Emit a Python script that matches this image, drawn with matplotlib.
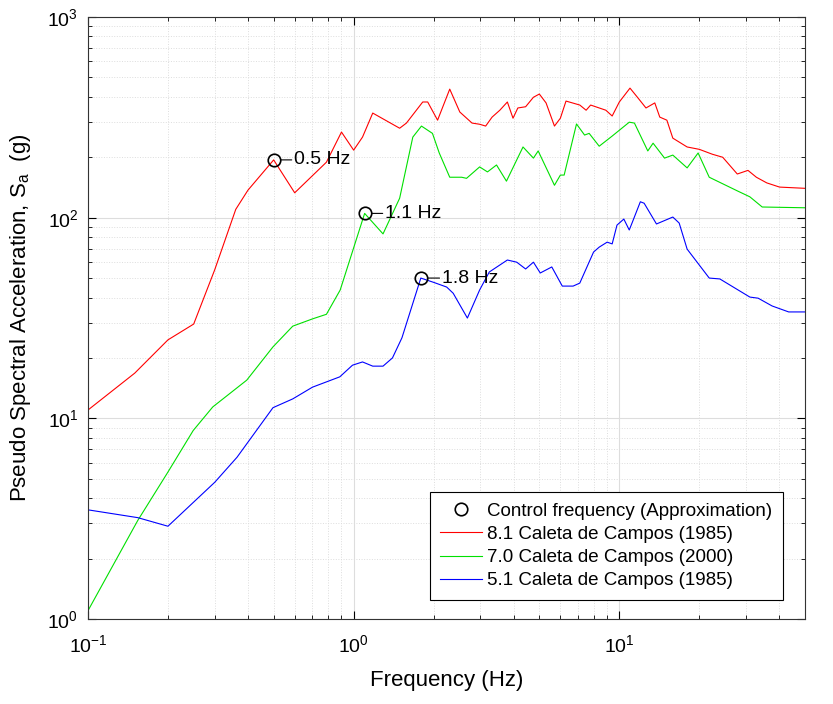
import matplotlib
import matplotlib.pyplot as plt
from matplotlib.ticker import LogLocator, NullFormatter

matplotlib.use("agg")

plt.rcParams["font.family"] = ["Liberation Sans", "DejaVu Sans"]
plt.rcParams["mathtext.default"] = "regular"

# spectra (frequency in Hz, Sa in g)
f_81 = [0.1, 0.15, 0.2, 0.25, 0.3, 0.36, 0.40, 0.5, 0.60, 0.79, 0.90, 1.0, 1.08, 1.18,
        1.49, 1.58, 1.82, 1.9, 2.07, 2.30, 2.51, 2.79, 2.98, 3.14, 3.32, 3.55, 3.79,
        3.98, 4.15, 4.44, 4.75, 5.0, 5.3, 5.7, 6.0, 6.3, 7.1, 7.5, 7.8, 8.9, 9.4, 10.0,
        10.97, 11.7, 12.6, 13.6, 14.2, 15.1, 15.9, 18.0, 20.0, 22.4, 24.5, 27.8, 30.5,
        32.8, 35.9, 40.1, 50.0]
sa_81 = [11, 16.8, 24.6, 29.5, 55, 110, 137, 194, 133, 189, 267, 217, 252, 332,
         279, 296, 377, 377, 306, 437, 336, 296, 292, 286, 317, 343, 377,
         313, 352, 357, 398, 413, 373, 286, 313, 381, 364, 343, 364, 343, 321, 377,
         442, 398, 352, 373, 317, 306, 249, 225, 219, 207, 200, 165, 172,
         159, 149, 142, 140]

f_70 = [0.1, 0.154, 0.2, 0.249, 0.295, 0.396, 0.497, 0.59, 0.70, 0.79, 0.89, 1.1,
        1.29, 1.49, 1.67, 1.80, 1.98, 2.10, 2.30, 2.55, 2.66, 2.98, 3.19, 3.45, 3.76,
        4.34, 4.75, 4.95, 5.7, 6.0, 6.2, 6.9, 7.4, 7.7, 8.4, 9.4, 10.9, 11.4, 12.8,
        13.4, 14.8, 15.9, 18.0, 19.8, 21.8, 27.8, 31.0, 34.5, 50.0]
sa_70 = [1.1, 3.1, 5.4, 8.7, 11.4, 15.5, 22.7, 28.8, 31.3, 33, 43.6, 105,
         83, 125, 252, 286, 263, 210, 159, 159, 157, 179, 169, 183, 152,
         225, 198, 215, 145, 163, 163, 293, 258, 263, 227, 255, 299, 296, 215,
         235, 198, 205, 177, 210, 159, 136, 127, 113, 112]

f_51 = [0.1, 0.154, 0.2, 0.30, 0.364, 0.497, 0.59, 0.70, 0.887, 0.99, 1.08, 1.18,
        1.29, 1.40, 1.52, 1.79, 2.0, 2.24, 2.37, 2.68, 2.98, 3.24, 3.79, 4.11, 4.44,
        4.75, 5.04, 5.57, 6.1, 6.7, 7.1, 8.0, 8.4, 9.0, 9.4, 9.8, 10.4, 10.9, 11.2,
        12.0, 12.4, 13.8, 15.9, 16.8, 18.0, 21.8, 23.9, 31.0, 33.3, 37.6, 43.4, 50.0]
sa_51 = [3.5, 3.2, 2.9, 4.8, 6.4, 11.3, 12.5, 14.3, 16.1, 18.4, 19.1, 18.2,
         18.2, 20, 25.2, 50, 47.6, 45.1, 42, 31.6, 43.6, 53.6, 61.5, 60, 55.5,
         60, 53, 56.8, 45.6, 45.6, 47.2, 67.4, 71.3, 75.5, 74, 91.8, 98.4, 86.8, 95,
         120, 118, 93, 100.7, 94, 69.7, 50, 49.5, 40.2, 39.7, 36.3, 33.9, 33.9]

ctrl_f = [0.5, 1.1, 1.8]
ctrl_sa = [194, 105, 50]
ctrl_labels = ["0.5 Hz", "1.1 Hz", "1.8 Hz"]

fig = plt.figure(figsize=(8.33, 7.04), dpi=100)
ax = fig.add_axes([0.1056, 0.1207, 0.8608, 0.8552])

ax.plot(ctrl_f, ctrl_sa, "o", mfc="none", mec="black", ms=9, mew=1.2,
        label="Control frequency (Approximation)", zorder=5)
ax.plot(f_81, sa_81, color="#ff0000", lw=0.8, label="8.1 Caleta de Campos (1985)")
ax.plot(f_70, sa_70, color="#00e000", lw=0.8, label="7.0 Caleta de Campos (2000)")
ax.plot(f_51, sa_51, color="#0000ff", lw=0.8, label="5.1 Caleta de Campos (1985)")

for fx, sy, txt in zip(ctrl_f, ctrl_sa, ctrl_labels):
    ax.annotate(txt, xy=(fx, sy), xytext=(15, 0), textcoords="offset points",
                va="center", ha="left", fontsize=14,
                arrowprops=dict(arrowstyle="-", color="black", lw=0.8,
                                shrinkA=0, shrinkB=5))

ax.set_xscale("log")
ax.set_yscale("log")
ax.set_xlim(0.1, 50)
ax.set_ylim(1, 1000)

ax.xaxis.set_minor_locator(LogLocator(base=10, subs=range(2, 10)))
ax.yaxis.set_minor_locator(LogLocator(base=10, subs=range(2, 10)))
ax.xaxis.set_minor_formatter(NullFormatter())
ax.yaxis.set_minor_formatter(NullFormatter())

ax.grid(True, which="major", color="#dddddd", lw=0.8, ls="-")
ax.grid(True, which="minor", color="#dddddd", lw=0.7, ls=":")
ax.set_axisbelow(True)

ax.tick_params(which="both", direction="in", top=True, right=True, labelsize=14)
ax.tick_params(which="major", length=6)
ax.tick_params(which="minor", length=3)
ax.tick_params(axis="x", which="major", pad=11)
ax.tick_params(axis="y", which="major", pad=7)
for sp in ax.spines.values():
    sp.set_color("#333333")

ax.set_xlabel("Frequency (Hz)", fontsize=16, labelpad=10)
ax.set_ylabel("Pseudo Spectral Acceleration, S$_a$  (g)", fontsize=16, labelpad=10)

leg = ax.legend(loc="lower right", bbox_to_anchor=(0.969, 0.032), borderaxespad=0,
                fontsize=13.5, fancybox=False, framealpha=1, edgecolor="black",
                handlelength=2.2, handletextpad=0.3, borderpad=0.55, labelspacing=0.33)
leg.get_frame().set_linewidth(0.8)

fig.savefig("out.png", dpi=100)
plt.close(fig)
